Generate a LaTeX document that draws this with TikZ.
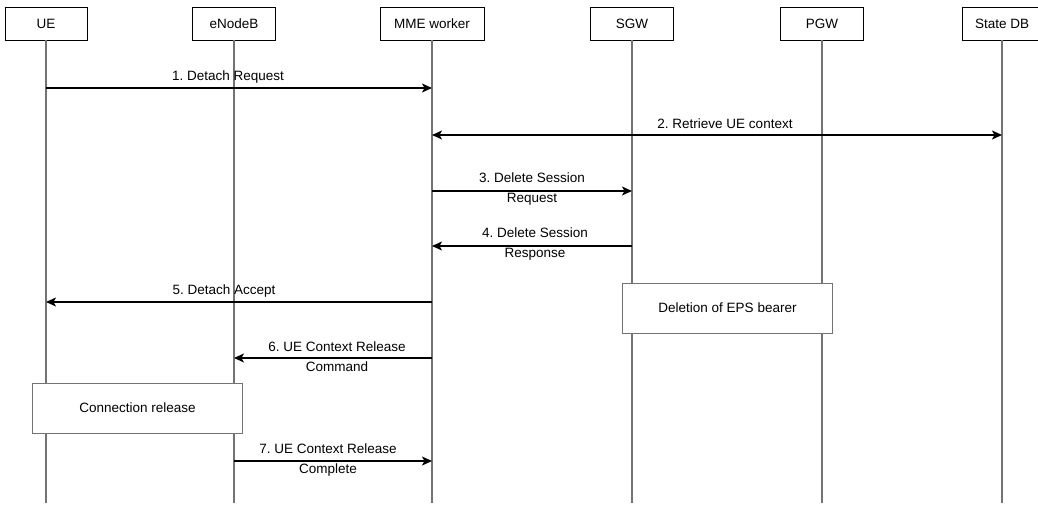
\documentclass[tikz,border=0pt]{standalone}
\usepackage{fontspec}
\setmainfont{Liberation Sans}
\usetikzlibrary{arrows,arrows.meta,positioning,calc}

\begin{document}
\frenchspacing
\begin{tikzpicture}[x=1pt, y=-1pt, -, >={Stealth[length=10pt,width=9pt,inset=2.5pt]}, line width=0.5pt,
	font=\fontsize{13.5}{15}\selectfont,
	actor/.style={draw=black, line width=1pt, fill=white, minimum width=82pt, minimum height=33pt, inner sep=0pt, outer sep=0pt},
	lifeline/.style={draw=black!55, line width=1.1pt},
	msg/.style={draw=black, line width=1.2pt},
	action/.style={draw=black!55, line width=1pt, fill=white, minimum width=210pt, minimum height=50pt, inner sep=0pt},
	lbl/.style={midway, yshift=11pt, inner sep=0pt},
	lbltwo/.style={midway, align=center, inner sep=0pt, font=\fontsize{13.5}{20}\selectfont}]
	
	\useasboundingbox (0,0) rectangle (1038,505);
	
	\node [actor] (ue) at (46,24) {UE};
	\node [actor, minimum width=83pt] (enb) [right=105.5pt of ue] {eNodeB};
	\node [actor, minimum width=104pt] (mme) [right=104.5pt of enb] {MME worker};
	\node [actor, minimum width=83pt] (sgw) [right=106.5pt of mme] {SGW};
	\node [actor, minimum width=83pt] (pgw) [right=107pt of sgw] {PGW};
	\node [actor, minimum width=80pt] (db) [right=98.5pt of pgw] {State DB};
	
	\coordinate (bottom) at (0,503);
	\foreach \n in {ue,enb,mme,sgw,pgw,db}
		\draw [lifeline] (\n) -- (\n |- bottom);
	
	\node [action] (bearer) at (727.5,308) {Deletion of EPS bearer};
	\node [action] (connrel) at (137.5,408) {Connection release};
	
	\coordinate (r1) at (0,88);
	\coordinate (r2) at (0,135);
	\coordinate (r3) at (0,191);
	\coordinate (r4) at (0,246);
	\coordinate (r5) at (0,302);
	\coordinate (r6) at (0,358);
	\coordinate (r7) at (0,461);
	
	\draw [msg,->] (ue |- r1) -- node [lbl, xshift=-11pt] {1. Detach Request} (mme |- r1);
	\draw [msg,<->] (mme |- r2) -- node [lbl, xshift=8pt] {2. Retrieve UE context} (db |- r2);
	\draw [msg,->] (mme |- r3) -- node [lbltwo, yshift=2pt] {3. Delete Session\\Request} (sgw |- r3);
	\draw [msg,<-] (mme |- r4) -- node [lbltwo, yshift=1.5pt, xshift=3pt] {4. Delete Session\\Response} (sgw |- r4);
	\draw [msg,<-] (ue |- r5) -- node [lbl, xshift=-15pt] {5. Detach Accept} (mme |- r5);
	\draw [msg,<-] (enb |- r6) -- node [lbltwo, yshift=1.5pt, xshift=4pt] {6. UE Context Release\\Command} (mme |- r6);
	\draw [msg,->] (enb |- r7) -- node [lbltwo, yshift=1pt, xshift=-5pt] {7. UE Context Release\\Complete} (mme |- r7);
\end{tikzpicture}
\end{document}
